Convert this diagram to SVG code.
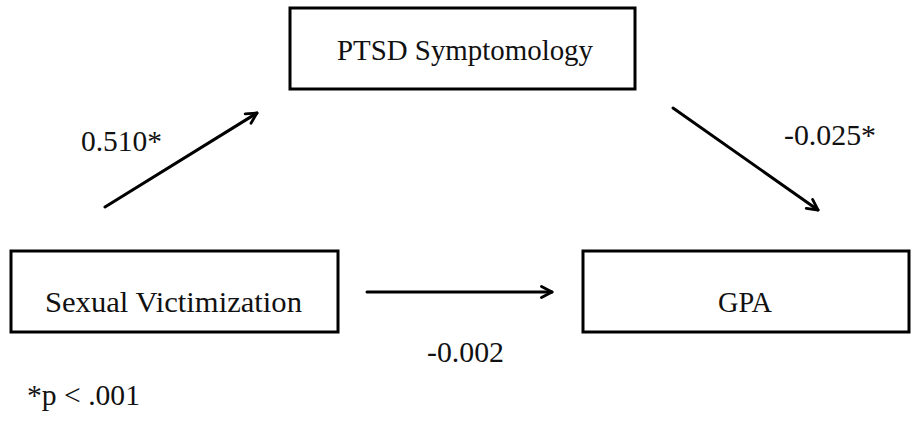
<svg xmlns="http://www.w3.org/2000/svg" width="911" height="423" viewBox="0 0 911 423">
<defs>
<style>
.box{fill:#fff;stroke:#000;stroke-width:3}
.t{font-family:"Liberation Serif","Times New Roman",serif;font-size:29px;fill:#111}
.c{stroke:#000;stroke-width:3;fill:none;stroke-linecap:round}
</style>
<marker id="ah" viewBox="0 0 14 14" refX="12" refY="7" markerWidth="14" markerHeight="14" markerUnits="userSpaceOnUse" orient="auto">
<path d="M1.5,1.5 L12,7 L1.5,12.5" fill="none" stroke="#000" stroke-width="2.8" stroke-linecap="round" stroke-linejoin="round"/>
</marker>
</defs>
<rect width="911" height="423" fill="#fff"/>
<g id="ptsd">
<rect class="box" x="290" y="8" width="345" height="81"/>
<text class="t" x="337" y="60" textLength="256" lengthAdjust="spacingAndGlyphs">PTSD Symptomology</text>
</g>
<g id="sv">
<rect class="box" x="11" y="251" width="327" height="81"/>
<text class="t" x="45" y="312" textLength="257" lengthAdjust="spacingAndGlyphs">Sexual Victimization</text>
</g>
<g id="gpa">
<rect class="box" x="583" y="251" width="326" height="81"/>
<text class="t" x="718" y="312" textLength="54" lengthAdjust="spacingAndGlyphs">GPA</text>
</g>
<g id="connectors">
<line class="c" x1="105" y1="207" x2="257" y2="113" marker-end="url(#ah)"/>
<line class="c" x1="673" y1="108" x2="818" y2="210" marker-end="url(#ah)"/>
<line class="c" x1="367" y1="292" x2="552" y2="292" marker-end="url(#ah)"/>
</g>
<g id="labels">
<text class="t" x="81" y="151" textLength="81" lengthAdjust="spacingAndGlyphs">0.510*</text>
<text class="t" x="784" y="145" textLength="92" lengthAdjust="spacingAndGlyphs">-0.025*</text>
<text class="t" x="427" y="362" textLength="77" lengthAdjust="spacingAndGlyphs">-0.002</text>
<text class="t" x="27" y="405" textLength="113" lengthAdjust="spacingAndGlyphs">*p &lt; .001</text>
</g>
</svg>
